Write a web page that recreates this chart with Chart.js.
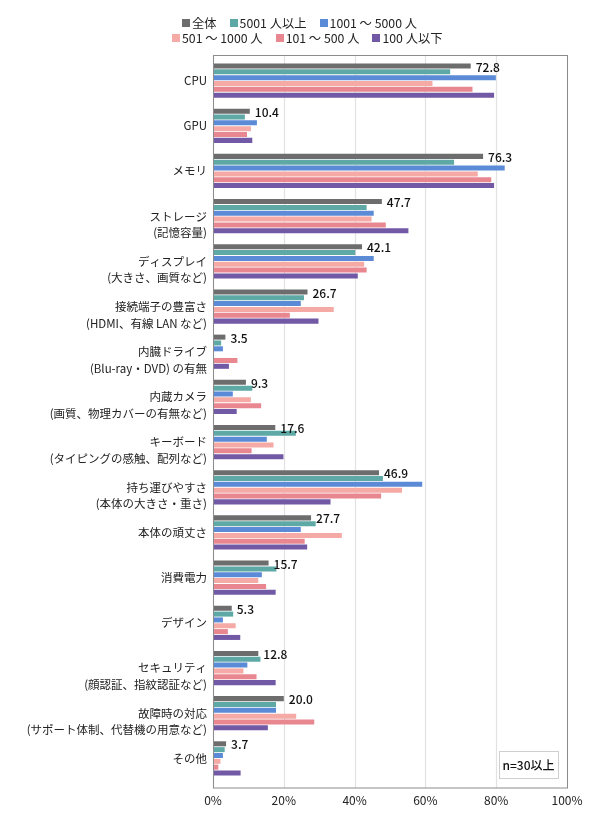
<!DOCTYPE html>
<html lang="ja">
<head>
<meta charset="utf-8">
<script src="https://cdn.jsdelivr.net/npm/chart.js@4.4.1/dist/chart.umd.min.js"></script>
<style>
  body { margin: 0; background: #fff; overflow: hidden; }
  #wrap { position: relative; width: 590px; height: 813px; }
  #bar-chart { display: block; }
  .legend-row { position: absolute; display: flex; font: 12.3px "Noto Sans CJK JP", sans-serif; color: #222; white-space: nowrap; }
  .legend-item { display: flex; align-items: center; margin-right: 13px; }
  .legend-box { width: 8px; height: 8px; margin-right: 2px; }
</style>
</head>
<body>
<div id="wrap">
  <div class="legend-row" id="row1" style="left:182px; top:14px;"></div>
  <div class="legend-row" id="row2" style="left:172px; top:29px;"></div>
  <canvas id="bar-chart"></canvas>
</div>
<script>
// 項目
const categories = [
    'CPU',
    'GPU',
    'メモリ',
    ['ストレージ', '(記憶容量)'],
    ['ディスプレイ', '(大きさ、画質など)'],
    ['接続端子の豊富さ', '(HDMI、有線 LAN など)'],
    ['内臓ドライブ', '(Blu-ray・DVD) の有無'],
    ['内蔵カメラ', '(画質、物理カバーの有無など)'],
    ['キーボード', '(タイピングの感触、配列など)'],
    ['持ち運びやすさ', '(本体の大きさ・重さ)'],
    '本体の頑丈さ',
    '消費電力',
    'デザイン',
    ['セキュリティ', '(顔認証、指紋認証など)'],
    ['故障時の対応', '(サポート体制、代替機の用意など)'],
    'その他'
];

// 系列名
const seriesNames = ['全体', '5001 人以上', '1001 ～ 5000 人', '501 ～ 1000 人', '101 ～ 500 人', '100 人以下'];

// 各系列の値 (%)
const allValues    = [72.8, 10.4, 76.3, 47.7, 42.1, 26.7, 3.5, 9.3, 17.6, 46.9, 27.7, 15.7, 5.3, 12.8, 20.0, 3.7];
const over5001     = [67.0, 9.0, 68.1, 43.4, 40.2, 25.7, 2.3, 11.1, 23.4, 48.0, 29.0, 17.9, 5.7, 13.4, 17.8, 3.3];
const from1001     = [79.9, 12.4, 82.4, 45.4, 45.4, 24.8, 2.8, 5.6, 15.2, 59.1, 24.8, 13.8, 2.8, 9.7, 17.8, 2.8];
const from501      = [62.0, 10.7, 74.8, 44.8, 42.7, 34.1, 0.0, 10.7, 17.1, 53.4, 36.4, 12.8, 6.4, 8.6, 23.5, 2.1];
const from101      = [73.3, 9.6, 78.6, 48.8, 43.4, 21.7, 6.9, 13.6, 10.9, 47.5, 25.9, 15.0, 4.2, 12.3, 28.6, 1.5];
const under100     = [79.4, 11.1, 79.4, 55.2, 40.9, 29.8, 4.5, 6.7, 19.9, 33.2, 26.6, 17.7, 7.7, 17.7, 15.5, 7.8];

// X軸目盛
const xTicks = [0, 20, 40, 60, 80, 100];

const seriesValues = [allValues, over5001, from1001, from501, from101, under100];
const colors = ['#6d6d6d', '#5ea9a6', '#5b8ad6', '#f5aaa6', '#e8878f', '#7259a6'];
const FONT = '"Noto Sans CJK JP", sans-serif';

// 凡例 (2行)
seriesNames.forEach((name, i) => {
    const item = document.createElement('div');
    item.className = 'legend-item';
    item.innerHTML = '<span class="legend-box" style="background:' + colors[i] + '"></span>' + name;
    document.getElementById(i < 3 ? 'row1' : 'row2').appendChild(item);
});

// 枠と目盛線 (プロット枠は棒の領域より少し広い)
const frameTop = 2.5, frameBottom = 7;
const framePlugin = {
    id: 'frame',
    beforeDatasetsDraw(chart) {
        const c = chart.ctx;
        const area = chart.chartArea;
        const x = chart.scales.x;
        c.save();
        c.strokeStyle = '#e2e2e2';
        c.lineWidth = 1.2;
        xTicks.forEach(v => {
            const px = Math.round(x.getPixelForValue(v)) + 0.5;
            c.beginPath();
            c.moveTo(px, area.top - frameTop);
            c.lineTo(px, area.bottom + frameBottom);
            c.stroke();
        });
        c.restore();
    },
    afterDatasetsDraw(chart) {
        const c = chart.ctx;
        const area = chart.chartArea;
        c.save();
        // 枠線
        c.strokeStyle = '#8c8c8c';
        c.lineWidth = 1;
        c.strokeRect(Math.round(area.left) + 0.5, area.top - frameTop,
            area.right - area.left, area.bottom - area.top + frameTop + frameBottom);

        // 全体の値ラベル
        const meta = chart.getDatasetMeta(0);
        c.font = '500 12px ' + FONT;
        c.fillStyle = '#111';
        c.textBaseline = 'middle';
        meta.data.forEach((bar, i) => {
            c.fillText(allValues[i].toFixed(1), bar.x + 5, bar.y + 1);
        });

        // n=30以上
        const bw = 59, bh = 27;
        const bx = area.right - 9 - bw, by = area.bottom + frameBottom - 10 - bh;
        c.fillStyle = '#fff';
        c.fillRect(bx, by, bw, bh);
        c.strokeStyle = '#cfcfcf';
        c.strokeRect(bx + 0.5, by + 0.5, bw, bh);
        c.fillStyle = '#111';
        c.font = '500 12px ' + FONT;
        c.textAlign = 'center';
        c.fillText('n=30以上', bx + bw / 2, by + bh / 2 + 1);
        c.restore();
    }
};

const ctx = document.getElementById('bar-chart').getContext('2d');
const chart = new Chart(ctx, {
    type: 'bar',
    data: {
        labels: categories,
        datasets: seriesNames.map((name, i) => ({
            label: name,
            data: seriesValues[i],
            backgroundColor: colors[i],
            borderWidth: 0,
            categoryPercentage: 0.775,
            barPercentage: 0.86
        }))
    },
    options: {
        indexAxis: 'y',
        responsive: true,
        maintainAspectRatio: false,
        animation: false,
        layout: { padding: { top: 58, right: 23, left: 0, bottom: 0 } },
        plugins: {
            legend: { display: false },
            tooltip: { enabled: false }
        },
        scales: {
            x: {
                min: 0,
                max: 100,
                afterBuildTicks(scale) {
                    scale.ticks = xTicks.map(v => ({ value: v }));
                },
                afterFit(scale) { scale.height = 32; },
                ticks: {
                    callback: v => v + '%',
                    color: '#222',
                    font: { family: FONT, size: 12 },
                    padding: 4,
                    maxRotation: 0
                },
                grid: { display: false, drawTicks: true, tickLength: 8 },
                border: { display: false }
            },
            y: {
                afterFit(scale) { scale.width = 213; },
                ticks: {
                    // 2行ラベルは1行目を棒の中心に合わせる
                    callback(value) {
                        const label = this.getLabelForValue(value);
                        return Array.isArray(label) ? [''].concat(label) : label;
                    },
                    color: '#222',
                    font: { family: FONT, size: 11.5, lineHeight: 1.45 },
                    padding: 6,
                    autoSkip: false
                },
                grid: { display: false, drawTicks: false },
                border: { display: false }
            }
        }
    },
    plugins: [framePlugin]
});
</script>
</body>
</html>
